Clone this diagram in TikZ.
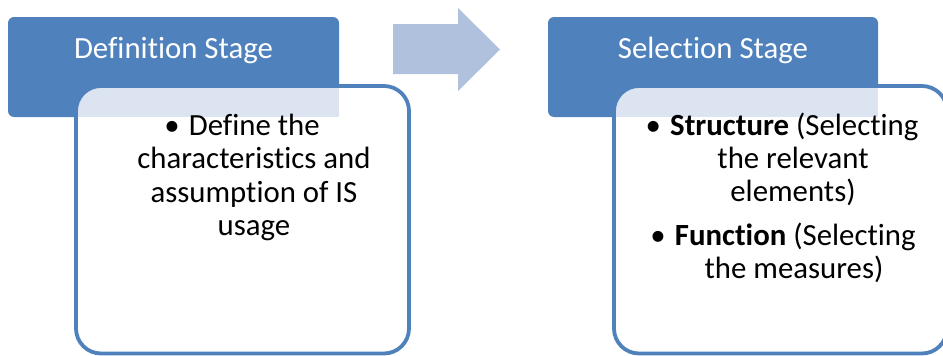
\documentclass[tikz,border=0pt]{standalone}
\usepackage{fontspec}
\setmainfont{Carlito}[Ligatures=CommonOff]
\definecolor{hdr}{HTML}{4F81BD}
\definecolor{arr}{HTML}{B0C1DE}
\definecolor{dotfill}{HTML}{DCE4F2}
\begin{document}
\begin{tikzpicture}[x=1pt,y=-1pt,
  header/.style={fill=hdr, rounded corners=6pt},
  bodybox/.style={draw=hdr, line width=3.8pt, rounded corners=25pt},
  txt/.style={inner sep=0pt, anchor=base, font=\fontsize{30.8}{33.5}\selectfont},
  hdrtxt/.style={txt, text=white}]
\useasboundingbox (0,0) rectangle (943,356);
% left stage
\fill[header] (8,17) rectangle (339,117);
\fill[white, rounded corners=25pt] (76,86) rectangle (409,354);
\begin{scope}
  \clip[rounded corners=25pt] (76,86) rectangle (409,354);
  \fill[dotfill] (76,86) rectangle (339,117);
\end{scope}
\draw[bodybox] (76,86) rectangle (409,353.5);
\node[hdrtxt] (h1) at (173.5,58) {Definition Stage};
\node[txt] (l1) at (242,135) {•\hspace{0.3em}Define the};
\node[txt] (l2) at (254,168.5) {characteristics and};
\node[txt] (l3) at (254,202) {assumption of IS};
\node[txt] (l4) at (254,235.5) {usage};
% arrow
\fill[arr] (393,24) -- (458,24) -- (458,8) -- (500,49.5) -- (458,91) -- (458,74) -- (393,74) -- cycle;
% right stage
\fill[header] (548,17) rectangle (878,117);
\fill[white, rounded corners=25pt] (614,86) rectangle (947,354);
\begin{scope}
  \clip[rounded corners=25pt] (614,86) rectangle (947,354);
  \fill[dotfill] (614,86) rectangle (878,117);
\end{scope}
\draw[bodybox] (614,86) rectangle (947,353.5);
\node[hdrtxt] (h2) at (713,58) {Selection Stage};
\node[txt] (r1) at (782,135) {•\hspace{0.3em}\textbf{Structure} (Selecting};
\node[txt] (r2) at (793,168) {the relevant};
\node[txt] (r3) at (793,201) {elements)};
\node[txt] (r4) at (783,245) {•\hspace{0.3em}\textbf{Function} (Selecting};
\node[txt] (r5) at (794,278) {the measures)};
\end{tikzpicture}
\end{document}
